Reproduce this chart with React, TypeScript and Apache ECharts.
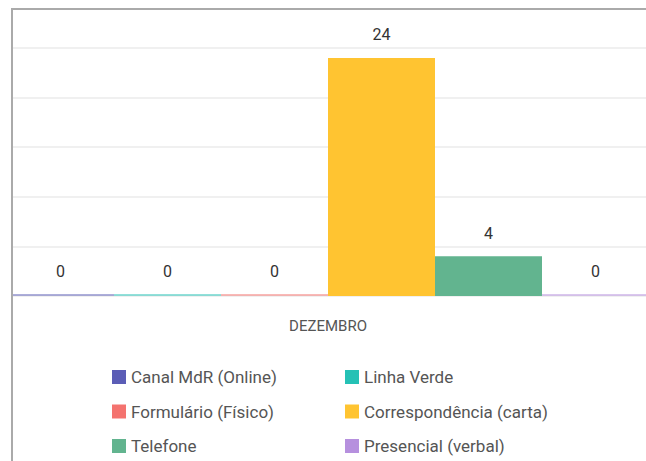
import React, { useEffect, useRef } from "react";
import * as echarts from "echarts";

const categories = ["DEZEMBRO"];
const seriesNames = [
  "Canal MdR (Online)",
  "Linha Verde",
  "Formulário (Físico)",
  "Correspondência (carta)",
  "Telefone",
  "Presencial (verbal)",
];
const seriesValues = [[0], [0], [0], [24], [4], [0]];
const seriesColors = ["#5b5db6", "#25c1b5", "#f4736f", "#ffc431", "#62b48f", "#b690de"];
const leftLegend = ["Canal MdR (Online)", "Formulário (Físico)", "Telefone"];
const rightLegend = ["Linha Verde", "Correspondência (carta)", "Presencial (verbal)"];

const FONT = "Roboto, 'Noto Sans', sans-serif";

export default function App() {
  const ref = useRef<HTMLDivElement>(null);
  useEffect(() => {
    document.body.style.overflow = "hidden";
    const chart = echarts.init(ref.current!, undefined, { renderer: "svg" });
    const legendBase = {
      orient: "vertical" as const,
      top: 362,
      height: 130,
      itemWidth: 14,
      itemHeight: 14,
      itemGap: 14.5,
      icon: "rect",
      textStyle: { fontSize: 17, color: "#555", fontFamily: FONT, lineHeight: 20 },
    };
    chart.setOption({
      animation: false,
      textStyle: { fontFamily: FONT },
      grid: { left: 7, right: 11, top: 48, bottom: 204 },
      legend: [
        { ...legendBase, left: 107, data: leftLegend },
        { ...legendBase, left: 340, data: rightLegend },
      ],
      xAxis: {
        type: "category",
        data: categories,
        axisLine: { show: false },
        axisTick: { show: false },
        axisLabel: { color: "#555", fontSize: 15, margin: 22, fontFamily: FONT },
      },
      yAxis: {
        type: "value",
        min: 0,
        max: 25,
        interval: 5,
        axisLabel: { show: false },
        axisLine: { show: false },
        axisTick: { show: false },
        splitLine: { lineStyle: { color: "#f0f0f0", width: 2 } },
      },
      series: seriesNames.map((name, i) => ({
        name,
        type: "bar",
        barGap: "0%",
        barCategoryGap: "0%",
        barMinHeight: 2,
        color: seriesColors[i],
        label: {
          show: true,
          position: "top",
          distance: 15,
          color: "#333",
          fontSize: 16,
          fontFamily: FONT,
        },
        data: seriesValues[i].map((v) => ({
          value: v,
          itemStyle: v === 0 ? { color: seriesColors[i] + "80" } : undefined,
        })),
      })),
    });
    return () => chart.dispose();
  }, []);
  return (
    <div style={{ position: "fixed", left: 0, top: 0, width: 646, height: 461, overflow: "hidden", background: "#fff" }}>
      <div ref={ref} style={{ position: "absolute", left: 0, top: 0, width: 660, height: 500 }} />
      <div style={{ position: "absolute", left: 0, top: 0, width: 11, height: 461, background: "#fff" }} />
      <div
        style={{
          position: "absolute",
          left: 11,
          top: 8,
          width: 700,
          height: 500,
          borderLeft: "2px solid #aaa",
          borderTop: "2px solid #aaa",
          pointerEvents: "none",
        }}
      />
    </div>
  );
}
